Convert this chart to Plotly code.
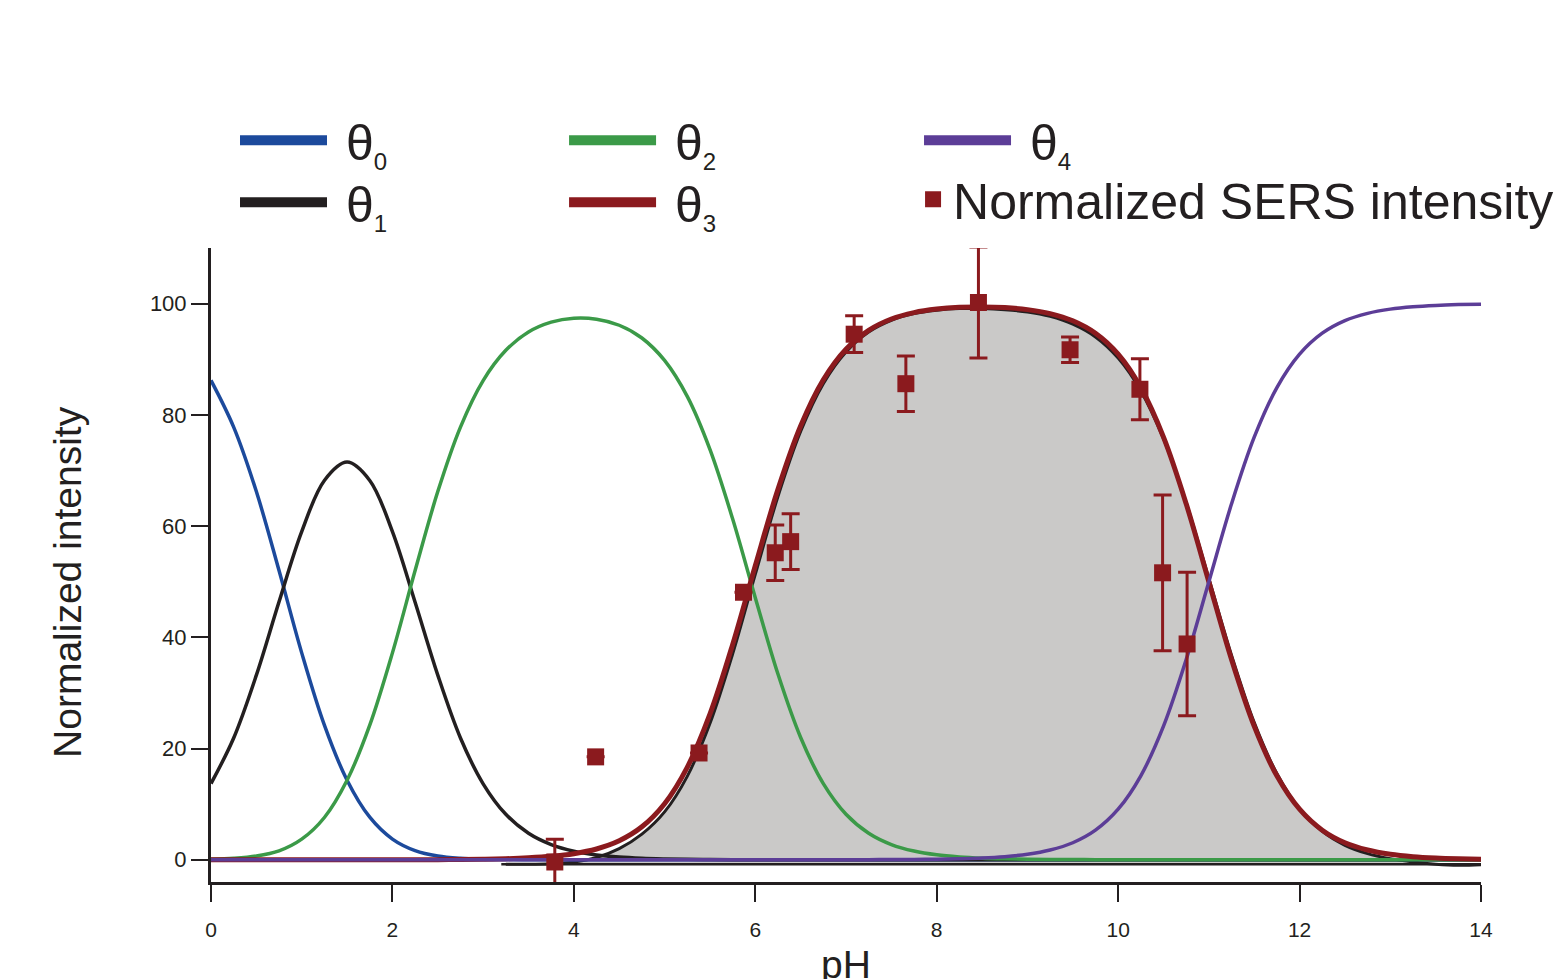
import plotly.graph_objects as go

# ---------------- data ----------------
ph = [0.0, 0.25, 0.5, 0.75, 1.0, 1.25, 1.5, 1.75, 2.0, 2.25, 2.5, 2.75, 3.0, 3.25,
      3.5, 3.75, 4.0, 4.25, 4.5, 4.75, 5.0, 5.25, 5.5, 5.75, 6.0, 6.25, 6.5, 6.75,
      7.0, 7.25, 7.5, 7.75, 8.0, 8.25, 8.5, 8.75, 9.0, 9.25, 9.5, 9.75, 10.0, 10.25,
      10.5, 10.75, 11.0, 11.25, 11.5, 11.75, 12.0, 12.25, 12.5, 12.75, 13.0, 13.25,
      13.5, 13.75, 14.0]

theta0 = [86.2, 77.8, 66.2, 52.0, 37.2, 24.2, 14.3, 7.65, 3.72, 1.64, 0.66, 0.25, 0.09, 0.03,
          0.01, 0, 0, 0, 0, 0, 0, 0, 0, 0, 0, 0, 0, 0,
          0, 0, 0, 0, 0, 0, 0, 0, 0, 0, 0, 0, 0, 0,
          0, 0, 0, 0, 0, 0, 0, 0, 0, 0, 0, 0, 0, 0, 0]

theta1 = [13.7, 21.9, 33.2, 46.4, 59.0, 68.2, 71.5, 68.2, 59.0, 46.3, 33.2, 21.9, 13.66, 8.17,
          4.76, 2.73, 1.54, 0.87, 0.48, 0.26, 0.14, 0.07, 0.04, 0.02, 0.01, 0, 0, 0,
          0, 0, 0, 0, 0, 0, 0, 0, 0, 0, 0, 0, 0, 0,
          0, 0, 0, 0, 0, 0, 0, 0, 0, 0, 0, 0, 0, 0, 0]

theta2 = [0.09, 0.25, 0.66, 1.6, 3.7, 7.6, 14.3, 24.2, 37.2, 52.0, 66.2, 77.8, 86.16, 91.6,
          94.9, 96.67, 97.37, 97.19, 96.11, 93.82, 89.78, 83.31, 73.78, 61.30, 47.13, 33.39, 21.99, 13.68,
          8.18, 4.77, 2.74, 1.56, 0.88, 0.50, 0.28, 0.16, 0.09, 0.05, 0.03, 0.02, 0.01, 0,
          0, 0, 0, 0, 0, 0, 0, 0, 0, 0, 0, 0, 0, 0, 0]

theta3 = [0, 0, 0, 0, 0, 0, 0, 0, 0, 0, 0.02, 0.05, 0.10, 0.18,
          0.34, 0.61, 1.09, 1.94, 3.41, 5.92, 10.07, 16.62, 26.18, 38.68, 52.87, 66.61, 78.01, 86.32,
          91.81, 95.2, 97.23, 98.39, 99.02, 99.33, 99.40, 99.28, 98.92, 98.21, 96.91, 94.67, 90.91, 84.90,
          75.98, 64.0, 50.0, 36.0, 24.02, 15.10, 9.09, 5.32, 3.06, 1.75, 0.99, 0.56, 0.32, 0.18, 0.10]

theta4 = [0, 0, 0, 0, 0, 0, 0, 0, 0, 0, 0, 0, 0, 0,
          0, 0, 0, 0, 0, 0, 0, 0, 0, 0, 0, 0, 0, 0,
          0, 0.02, 0.03, 0.06, 0.10, 0.18, 0.31, 0.56, 0.99, 1.75, 3.06, 5.32, 9.09, 15.10,
          24.02, 36.0, 50.0, 64.0, 75.98, 84.90, 90.91, 94.68, 96.94, 98.25, 99.01, 99.44, 99.68, 99.82, 99.90]

# fitted SERS envelope (black outline of the grey area)
ph_fit = [3.25, 3.5, 3.75, 4.0, 4.25, 4.5, 4.75, 5.0, 5.25, 5.5, 5.75, 6.0, 6.25, 6.5,
          6.75, 7.0, 7.25, 7.5, 7.75, 8.0, 8.25, 8.5, 8.75, 9.0, 9.25, 9.5, 9.75, 10.0,
          10.25, 10.5, 10.75, 11.0, 11.25, 11.5, 11.75, 12.0, 12.25, 12.5, 12.75, 13.0,
          13.25, 13.5, 13.75, 14.0]
fit = [-0.8, -0.8, -0.7, -0.4, 0.4, 2.0, 4.6, 8.6, 15.0, 24.5, 37.0, 51.3, 65.3, 77.0,
       85.6, 91.3, 94.9, 97.0, 98.2, 98.8, 99.1, 99.1, 98.9, 98.5, 97.7, 96.3, 94.0, 90.2,
       84.3, 75.7, 64.2, 50.6, 36.8, 24.7, 15.5, 9.1, 5.1, 2.6, 1.1, 0.2,
       -0.4, -0.8, -1.0, -0.9]
ph_base = [3.2, 14.0]
fit_base = [-0.8, -0.8]

# normalized SERS intensity with error bars (None = no visible error bar)
ph_sers = [3.79, 4.24, 5.38, 5.87, 6.22, 6.39, 7.09, 7.66, 8.46, 9.47, 10.24, 10.49, 10.76]
sers = [-0.4, 18.5, 19.2, 48.1, 55.2, 57.2, 94.5, 85.6, 100.2, 91.7, 84.6, 51.6, 38.8]
sers_err = [4.1, None, None, None, 5.0, 5.0, 3.3, 5.0, 10.0, 2.3, 5.5, 14.0, 12.9]

x_ticks = [0, 2, 4, 6, 8, 10, 12, 14]
y_ticks = [0, 20, 40, 60, 80, 100]

# ---------------- styles ----------------
BLUE = "#1c4a9c"
BLACK = "#231f20"
GREEN = "#3b9a48"
RED = "#8b1a1e"
PURPLE = "#5c3d97"
GREY = "#cac9c8"
FONT = "Liberation Sans, Arial, sans-serif"

fig = go.Figure()

# grey area with black outline
fig.add_trace(go.Scatter(x=ph_base, y=fit_base, mode="lines",
                         line=dict(color=BLACK, width=2.5), showlegend=False, hoverinfo="skip"))
fig.add_trace(go.Scatter(x=ph_fit, y=fit, mode="lines", line=dict(color=BLACK, width=3, shape="spline"),
                         fill="tonexty", fillcolor=GREY, showlegend=False))

curves = [(theta0, BLUE, 3.5), (theta1, BLACK, 3.5), (theta2, GREEN, 3.5),
          (theta3, RED, 5), (theta4, PURPLE, 3.5)]
for vals, col, w in curves:
    fig.add_trace(go.Scatter(x=ph, y=vals, mode="lines",
                             line=dict(color=col, width=w, shape="spline", smoothing=1.0),
                             showlegend=False))

fig.add_trace(go.Scatter(x=ph_sers, y=sers, mode="markers",
                         marker=dict(symbol="square", size=17, color=RED),
                         error_y=dict(type="data", array=sers_err, color=RED, thickness=3, width=9),
                         showlegend=False))


def theta_label(i):
    return "\u00a0θ<sub><span style='font-size:24px'>%d</span></sub>" % i


# legend entries (one legend per entry so they sit in a 3x2 grid)
legend_items = [
    (theta_label(0), BLUE, "lines", "legend", 0.0189, 1.170, 87),
    (theta_label(1), BLACK, "lines", "legend2", 0.0189, 1.072, 87),
    (theta_label(2), GREEN, "lines", "legend3", 0.278, 1.170, 87),
    (theta_label(3), RED, "lines", "legend4", 0.278, 1.072, 87),
    (theta_label(4), PURPLE, "lines", "legend5", 0.5575, 1.170, 87),
    ("Normalized SERS intensity", RED, "markers", "legend6", 0.5528, 1.077, 30),
]
legend_layout = {}
for name, col, mode, lg, lx, ly, iw in legend_items:
    if mode == "lines":
        fig.add_trace(go.Scatter(x=[None], y=[None], mode="lines", name=name,
                                 line=dict(color=col, width=12), legend=lg))
    else:
        fig.add_trace(go.Scatter(x=[None], y=[None], mode="markers", name=name,
                                 marker=dict(symbol="square", size=20, color=col), legend=lg))
    legend_layout[lg] = dict(x=lx, y=ly, xanchor="left", yanchor="middle",
                             bgcolor="rgba(0,0,0,0)", itemwidth=iw,
                             font=dict(family=FONT, size=50, color=BLACK))

fig.update_layout(
    width=1554, height=979,
    margin=dict(l=211, r=73, t=248, b=97, autoexpand=False),
    paper_bgcolor="white", plot_bgcolor="white",
    font=dict(family=FONT, color=BLACK),
    **legend_layout,
)

# axis titles
fig.add_annotation(text="Normalized intensity", xref="paper", yref="paper",
                   x=-0.131, y=0.4735, textangle=-90, showarrow=False,
                   font=dict(family=FONT, size=39, color=BLACK))
fig.add_annotation(text="pH", xref="paper", yref="paper",
                   x=0.5, y=-0.130, yanchor="middle", showarrow=False,
                   font=dict(family=FONT, size=39, color=BLACK))

fig.update_xaxes(range=[0, 14], tickvals=x_ticks, ticktext=[str(v) for v in x_ticks],
                 showgrid=False, zeroline=False, showline=True, linecolor=BLACK, linewidth=3,
                 ticks="outside", ticklen=17, tickwidth=2, tickcolor=BLACK,
                 ticklabelstandoff=10,
                 tickfont=dict(family=FONT, size=21, color=BLACK))
fig.update_yaxes(range=[-4, 110], tickvals=y_ticks, ticktext=[str(v) for v in y_ticks],
                 showgrid=False, zeroline=False, showline=True, linecolor=BLACK, linewidth=3,
                 ticks="outside", ticklen=17, tickwidth=2, tickcolor=BLACK,
                 tickfont=dict(family=FONT, size=22, color=BLACK))

fig.write_html("out.html", config={"displayModeBar": False},
               post_script="document.body.style.margin='0';document.body.style.overflow='hidden';")
